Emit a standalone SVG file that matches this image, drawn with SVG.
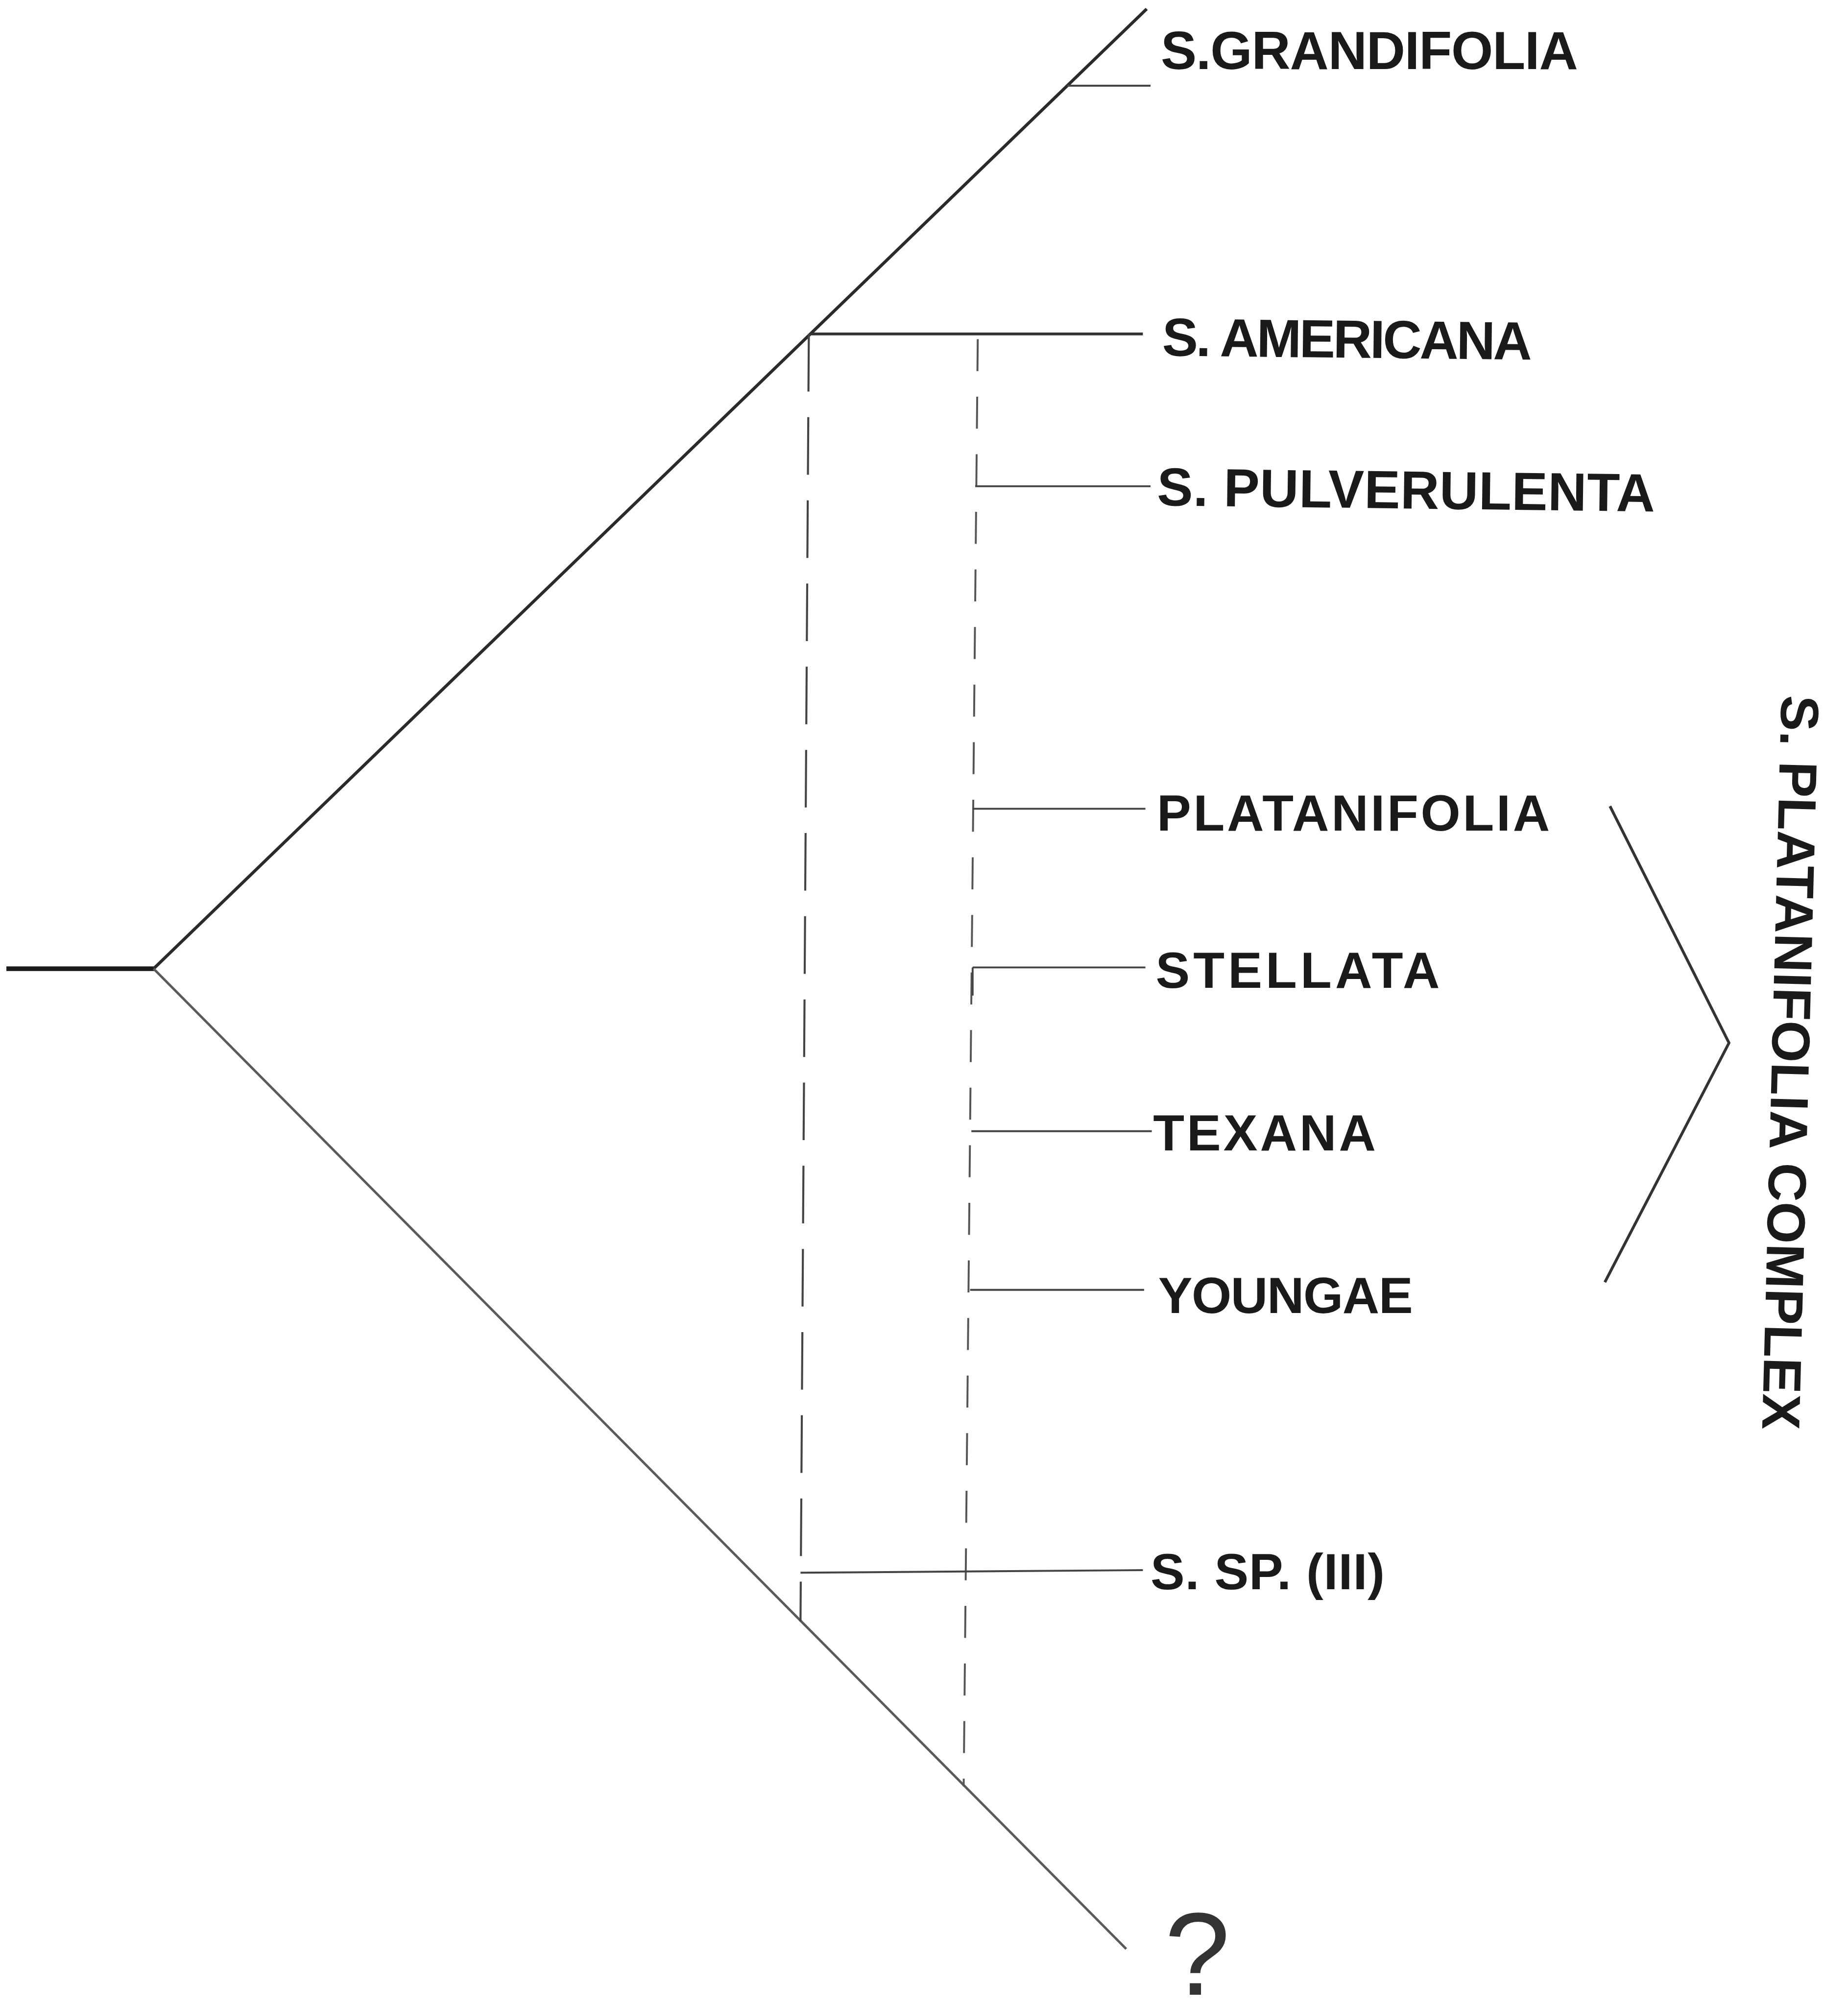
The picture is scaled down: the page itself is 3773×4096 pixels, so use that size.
<svg xmlns="http://www.w3.org/2000/svg" width="3773" height="4096" viewBox="0 0 3773 4096">
<style>
.lbl{font-family:"Liberation Sans",Arial,sans-serif;font-weight:bold;font-size:42px;fill:#1a1a1a}
.sm{font-size:40px}
.q{font-family:"Liberation Sans",Arial,sans-serif;font-weight:normal;font-size:92px;fill:#333}
.root{stroke:#1a1a1a;stroke-width:3.6;fill:none;stroke-linecap:butt}
.up{stroke:#2a2a2a;stroke-width:2.4;fill:none}
.low{stroke:#5a5a5a;stroke-width:1.9;fill:none}
.tick{stroke:#444;stroke-width:1.5;fill:none}
.thick{stroke:#333;stroke-width:2.2}
.d1{stroke:#444;stroke-width:1.6;fill:none;stroke-dasharray:45 20}
.d2{stroke:#555;stroke-width:1.5;fill:none;stroke-dasharray:25 20}
.br{stroke:#333;stroke-width:2.2;fill:none;stroke-linejoin:miter}
</style>
<rect width="3773" height="4096" fill="#ffffff"/>
<g transform="scale(2.6129)">
<g id="connectors">
<line class="root" x1="5" y1="757" x2="121" y2="757"/>
<line class="up" x1="120" y1="757" x2="896" y2="7"/>
<line class="low" x1="120" y1="757" x2="880" y2="1523"/>
<line class="tick" x1="834" y1="67" x2="899" y2="67"/>
<line class="tick thick" x1="633" y1="261" x2="893" y2="261"/>
<line class="d1" x1="632" y1="261" x2="625.5" y2="1267"/>
<line class="d2" x1="764" y1="265" x2="753" y2="1396"/>
<line class="tick" x1="762" y1="380" x2="899" y2="380"/>
<line class="tick" x1="760" y1="632" x2="895" y2="632"/>
<line class="tick" x1="760" y1="756" x2="895" y2="756"/>
<line class="tick" x1="760" y1="756" x2="760" y2="778"/>
<line class="tick" x1="759" y1="884" x2="900" y2="884"/>
<line class="tick" x1="758" y1="1008" x2="894" y2="1008"/>
<line class="tick" x1="625.5" y1="1229" x2="893" y2="1227"/>
<polyline id="bracket" class="br" points="1258,630 1351,815 1254,1002"/>
</g>
<g id="n-grandifolia"><text class="lbl" x="907" y="54" textLength="326" lengthAdjust="spacing">S.GRANDIFOLIA</text></g>
<g id="n-americana"><text class="lbl" x="908" y="278" textLength="289" lengthAdjust="spacing" transform="rotate(0.6 908 278)">S. AMERICANA</text></g>
<g id="n-pulverulenta"><text class="lbl" x="904" y="395" textLength="389" lengthAdjust="spacing" transform="rotate(0.7 904 395)">S. PULVERULENTA</text></g>
<g id="n-platanifolia"><text class="lbl sm" x="904" y="649" textLength="307" lengthAdjust="spacing">PLATANIFOLIA</text></g>
<g id="n-stellata"><text class="lbl sm" x="903" y="772" textLength="222" lengthAdjust="spacing">STELLATA</text></g>
<g id="n-texana"><text class="lbl sm" x="901" y="899" textLength="174" lengthAdjust="spacing">TEXANA</text></g>
<g id="n-youngae"><text class="lbl sm" x="905" y="1026" textLength="199" lengthAdjust="spacing">YOUNGAE</text></g>
<g id="n-ssp"><text class="lbl sm" x="899" y="1242" textLength="183" lengthAdjust="spacing">S. SP. (III)</text></g>
<g id="n-unknown"><text class="q" x="910" y="1559">?</text></g>
<g id="n-complex"><text class="lbl" font-size="41" x="0" y="0" textLength="574" lengthAdjust="spacing" transform="translate(1392 543) rotate(91.5)">S. PLATANIFOLIA COMPLEX</text></g>
</g>
</svg>
